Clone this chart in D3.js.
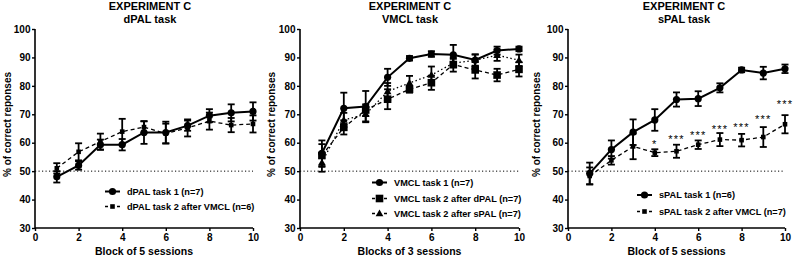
<!DOCTYPE html>
<html><head><meta charset="utf-8">
<script src="https://cdn.jsdelivr.net/npm/d3@7"></script>
<style>
body{margin:0;background:#fff;}
svg{display:block;font-family:"Liberation Sans",Arial,sans-serif;font-weight:bold;}
</style></head>
<body><svg id="c" width="796" height="258"></svg>
<script>
// ---------- data ----------
const blocks = [1,2,3,4,5,6,7,8,9,10];
const xTicks = [0,2,4,6,8,10];
const yTicks = [30,40,50,60,70,80,90,100];
const chanceLevel = 50;

const dpal1    = [48, 52, 59.3, 59.3, 63.6, 63.6, 66, 69.5, 70.5, 71];
const dpal1Err = [2, 1.5, 1.8, 2, 4, 3.8, 1.8, 2.3, 3, 3.2];
const dpal2    = [51, 56.8, 60.4, 63.9, 65.5, 63.2, 65.2, 67.6, 66.2, 66.6];
const dpal2Err = [1.8, 3, 2.8, 4.5, 2, 3.5, 3, 3, 2.5, 3];

const vmcl1    = [56.3, 72.1, 72.7, 83, 89.7, 91.2, 90.9, 89.1, 92.4, 93];
const vmcl1Err = [4.5, 5.5, 5.5, 3, 0.8, 1, 3.5, 2, 1.4, 0.8];
const vmcl2    = [55.5, 65.4, 71.5, 75.3, 78.8, 81.1, 87.5, 85.6, 83.8, 85.8];
const vmcl2Err = [4, 2.5, 2, 3.5, 1.2, 2.5, 2.5, 3, 2.2, 2.5];
const vmcl3    = [53, 68, 70, 78, 81, 83.8, 88, 89, 90.8, 89];
const vmcl3Err = [3.2, 2.5, 2.5, 3, 2.5, 3, 1.5, 2, 2, 2];

const spal1    = [49.2, 57.6, 63.7, 68, 75.2, 75.5, 79.3, 85.6, 84.5, 86];
const spal1Err = [3.8, 3.2, 4.5, 3.8, 2.5, 2.6, 1.6, 0.8, 2.2, 1.5];
const spal2    = [48.3, 53.8, 58.7, 56.5, 57, 59.3, 61.1, 60.9, 62, 66.5];
const spal2Err = [3, 1.5, 4.5, 1.2, 2.3, 1.5, 2.3, 2.2, 3.5, 3.2];

const sigLabels = ["", "", "", "*", "***", "***", "***", "***", "***", "***"];
const sigLevel  = [0, 0, 0, 60.3, 62, 63.5, 65.6, 66.3, 69, 74.3];

const titles = [["EXPERIMENT C","dPAL task"],["EXPERIMENT C","VMCL task"],["EXPERIMENT C","sPAL task"]];
const xLabels = ["Block of 5 sessions","Blocks of 3 sessions","Block of 5 sessions"];
const yLabel = "% of correct reponses";
const legendNames = [
  ["dPAL task 1 (n=7)","dPAL task 2 after VMCL (n=6)"],
  ["VMCL task 1 (n=7)","VMCL task 2 after dPAL (n=7)","VMCL task 2 after sPAL (n=7)"],
  ["sPAL task 1 (n=6)","sPAL task 2 after VMCL (n=7)"]
];

// ---------- layout ----------
const svg = d3.select("#c");
const plotTop = 29, plotBottom = 228;
const panels = [
  {x0:35, x1:253, titleX:150, legX:105, legY:[191.5,206.5], ylabX:7,
   series:[{v:dpal1,e:dpal1Err,m:"circle",dash:null},{v:dpal2,e:dpal2Err,m:"sqs",dash:"4,3"}]},
  {x0:300, x1:519, titleX:410, legX:372, legY:[182.5,198.5,213.5], ylabX:271,
   series:[{v:vmcl2,e:vmcl2Err,m:"sq",dash:"4,3"},{v:vmcl3,e:vmcl3Err,m:"tri",dash:"1.5,2.5"},{v:vmcl1,e:vmcl1Err,m:"circle",dash:null}],
   legOrder:[2,0,1]},
  {x0:568, x1:785, titleX:684, legX:637, legY:[195,211.5], ylabX:536,
   series:[{v:spal1,e:spal1Err,m:"circle",dash:null},{v:spal2,e:spal2Err,m:"sqs",dash:"4,3"}], stars:true}
];

function marker(g, type, cx, cy){
  if(type==="circle") g.append("circle").attr("cx",cx).attr("cy",cy).attr("r",3.6).attr("fill","#000");
  else if(type==="sq") g.append("rect").attr("x",cx-3.8).attr("y",cy-3.8).attr("width",7.6).attr("height",7.6).attr("fill","#000");
  else if(type==="sqs") g.append("rect").attr("x",cx-2.3).attr("y",cy-2.3).attr("width",4.6).attr("height",4.6).attr("fill","#000");
  else if(type==="tri") g.append("path").attr("d",d3.symbol(d3.symbolTriangle,26)()).attr("transform",`translate(${cx},${cy+0.5})`).attr("fill","#000");
}

panels.forEach((p,pi)=>{
  const x = d3.scaleLinear().domain([0,10]).range([p.x0,p.x1]);
  const y = d3.scaleLinear().domain([30,100]).range([plotBottom,plotTop]);
  const g = svg.append("g");

  titles[pi].forEach((t,i)=>g.append("text").attr("x",p.titleX).attr("y",10+i*12.7)
    .attr("text-anchor","middle").attr("font-size",11).text(t));

  g.append("line").attr("x1",x(0)).attr("x2",x(10)).attr("y1",y(chanceLevel)).attr("y2",y(chanceLevel))
    .attr("stroke","#000").attr("stroke-width",1).attr("stroke-dasharray","1.2,2.3");

  const ya = g.append("g").attr("transform",`translate(${p.x0},0)`)
    .call(d3.axisLeft(y).tickValues(yTicks).tickSize(3).tickPadding(1.5));
  const xa = g.append("g").attr("transform",`translate(0,${plotBottom})`)
    .call(d3.axisBottom(x).tickValues(xTicks).tickSize(3).tickPadding(3));
  [ya,xa].forEach(a=>{
    a.select(".domain").attr("stroke-width",1.6).attr("stroke","#000");
    a.selectAll(".tick line").attr("stroke-width",1.4).attr("stroke","#000");
    a.selectAll("text").attr("font-size",10).attr("font-family","Liberation Sans, Arial, sans-serif").attr("font-weight","bold").attr("fill","#000");
  });
  ya.select(".domain").attr("d",`M0,${plotBottom+0.8}V${plotTop}`);
  xa.select(".domain").attr("d",`M${p.x0},0H${p.x1}`);

  g.append("text").attr("x",(p.x0+p.x1)/2).attr("y",255).attr("text-anchor","middle")
    .attr("font-size",10.5).text(xLabels[pi]);
  g.append("text").attr("transform",`translate(${p.ylabX},${(plotTop+plotBottom)/2-4}) rotate(-90)`)
    .attr("text-anchor","middle").attr("dominant-baseline","central").attr("font-size",10).text(yLabel);

  p.series.forEach(s=>{
    const pts = blocks.map((b,i)=>({x:b,v:s.v[i],e:s.e[i]}));
    const line = d3.line().x(d=>x(d.x)).y(d=>y(d.v));
    const sg = g.append("g");
    sg.append("path").datum(pts).attr("d",line).attr("fill","none").attr("stroke","#000")
      .attr("stroke-width",s.dash?1.3:2).attr("stroke-dasharray",s.dash);
    pts.forEach(d=>{
      const cx=x(d.x), y1=y(d.v+d.e), y2=y(d.v-d.e);
      sg.append("line").attr("x1",cx).attr("x2",cx).attr("y1",y1).attr("y2",y2).attr("stroke","#000").attr("stroke-width",1.8);
      [y1,y2].forEach(yy=>sg.append("line").attr("x1",cx-3.5).attr("x2",cx+3.5).attr("y1",yy).attr("y2",yy).attr("stroke","#000").attr("stroke-width",1.8));
      marker(sg,s.m,cx,y(d.v));
    });
  });

  if(p.stars){
    blocks.forEach((b,i)=>{
      if(!sigLabels[i]) return;
      g.append("text").attr("x",x(b)).attr("y",y(sigLevel[i])+6).attr("text-anchor","middle")
        .attr("font-size",11).attr("font-weight","normal").attr("letter-spacing",1.2).text(sigLabels[i]);
    });
  }

  const order = p.legOrder || p.series.map((_,i)=>i);
  order.forEach((si,li)=>{
    const s = p.series[si], ly = p.legY[li];
    const lg = g.append("g");
    lg.append("line").attr("x1",p.legX).attr("x2",p.legX+15).attr("y1",ly).attr("y2",ly).attr("stroke","#000")
      .attr("stroke-width",s.dash?1.3:2).attr("stroke-dasharray",s.dash?"3,3":null);
    marker(lg,s.m,p.legX+7.5,ly);
    lg.append("text").attr("x",p.legX+22).attr("y",ly).attr("dominant-baseline","central")
      .attr("font-size",9.2).text(legendNames[pi][li]);
  });
});
</script></body></html>
